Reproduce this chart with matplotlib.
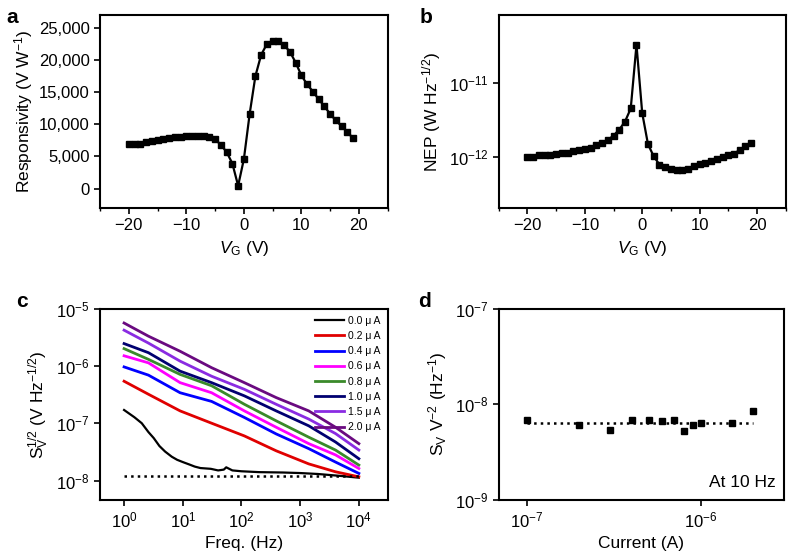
import matplotlib
matplotlib.use("Agg")
import matplotlib.pyplot as plt
from matplotlib.ticker import MultipleLocator, FuncFormatter, LogLocator, NullLocator

plt.rcParams['font.family'] = ['Liberation Sans', 'DejaVu Sans']
plt.rcParams['mathtext.fontset'] = 'custom'
plt.rcParams['mathtext.rm'] = 'Liberation Sans'
plt.rcParams['mathtext.it'] = 'Liberation Sans:italic'
plt.rcParams['mathtext.bf'] = 'Liberation Sans:bold'
plt.rcParams['font.size'] = 10

# panel a / b : gate voltage sweep
vg = [-20, -19, -18, -17, -16, -15, -14, -13, -12, -11, -10, -9, -8, -7, -6, -5, -4, -3, -2, -1,
      0, 1, 2, 3, 4, 5, 6, 7, 8, 9, 10, 11, 12, 13, 14, 15, 16, 17, 18, 19]
responsivity = [7000, 7000, 7000, 7250, 7400, 7600, 7700, 7800, 8000, 8100, 8150, 8200, 8200, 8200,
                8100, 7700, 6800, 5700, 3900, 450,
                4600, 11600, 17500, 20800, 22500, 22900, 22900, 22300, 21300, 19600, 17600, 16200,
                15100, 13900, 12800, 11600, 10600, 9700, 8800, 7800]
nep = [1.0e-12, 1.0e-12, 1.07e-12, 1.07e-12, 1.07e-12, 1.1e-12, 1.15e-12, 1.15e-12, 1.2e-12, 1.25e-12,
       1.3e-12, 1.35e-12, 1.45e-12, 1.55e-12, 1.7e-12, 1.95e-12, 2.35e-12, 3.0e-12, 4.5e-12, 3.2e-11,
       3.9e-12, 1.5e-12, 1.03e-12, 0.8e-12, 0.73e-12, 0.7e-12, 0.68e-12, 0.68e-12, 0.7e-12, 0.77e-12,
       0.82e-12, 0.85e-12, 0.88e-12, 0.95e-12, 1.0e-12, 1.07e-12, 1.12e-12, 1.25e-12, 1.4e-12, 1.53e-12]

# panel c : noise spectra
freq = [1, 2.6, 9, 31, 112, 390, 1400, 4000, 10000]
freq_dark = [1, 1.5, 2, 2.6, 3.2, 4, 5, 6.5, 8, 10, 13, 16, 20, 30, 40, 50, 55, 70, 100, 200,
             500, 1000, 2000, 5000, 10000]
sv_dark = [1.7e-7, 1.27e-7, 1.0e-7, 7e-8, 5.5e-8, 4e-8, 3.2e-8, 2.6e-8, 2.3e-8, 2.1e-8, 1.9e-8,
           1.75e-8, 1.65e-8, 1.6e-8, 1.5e-8, 1.55e-8, 1.7e-8, 1.5e-8, 1.45e-8, 1.4e-8, 1.38e-8,
           1.35e-8, 1.3e-8, 1.2e-8, 1.12e-8]
sv = {
    "0.2": [5.4e-7, 3.2e-7, 1.64e-7, 1.0e-7, 6.0e-8, 3.3e-8, 1.95e-8, 1.42e-8, 1.16e-8],
    "0.4": [9.6e-7, 6.9e-7, 3.4e-7, 2.4e-7, 1.26e-7, 6.5e-8, 3.6e-8, 2.1e-8, 1.33e-8],
    "0.6": [1.5e-6, 1.13e-6, 5.1e-7, 3.4e-7, 1.64e-7, 8.5e-8, 4.4e-8, 2.8e-8, 1.62e-8],
    "0.8": [2.0e-6, 1.3e-6, 7.1e-7, 4.5e-7, 2.14e-7, 1.1e-7, 5.7e-8, 3.4e-8, 1.86e-8],
    "1.0": [2.45e-6, 1.7e-6, 8.1e-7, 5.1e-7, 3.0e-7, 1.64e-7, 9.0e-8, 4.7e-8, 2.4e-8],
    "1.5": [4.2e-6, 2.5e-6, 1.21e-6, 6.6e-7, 3.9e-7, 2.14e-7, 1.18e-7, 6.6e-8, 3.4e-8],
    "2.0": [5.6e-6, 3.3e-6, 1.8e-6, 9.3e-7, 5.1e-7, 2.8e-7, 1.64e-7, 8.5e-8, 4.4e-8],
}
colors = {"0.0": "black", "0.2": "#e00000", "0.4": "#0000ff", "0.6": "#ff00ff", "0.8": "#3a8a2a",
          "1.0": "#000070", "1.5": "#8a2be2", "2.0": "#6a0a80"}
floor_c = 1.2e-8

# panel d : normalized noise at 10 Hz
current = [1e-7, 2e-7, 3e-7, 4e-7, 5e-7, 6e-7, 7e-7, 8e-7, 9e-7, 1e-6, 1.5e-6, 2e-6]
norm_noise = [6.8e-9, 6.0e-9, 5.4e-9, 6.8e-9, 6.9e-9, 6.6e-9, 6.8e-9, 5.25e-9, 6.1e-9, 6.3e-9, 6.4e-9, 8.5e-9]
mean_noise = 6.4e-9

fig = plt.figure(figsize=(7.88, 5.56), dpi=100)
axa = fig.add_axes([0.127, 0.626, 0.365, 0.347])
axb = fig.add_axes([0.633, 0.626, 0.364, 0.347])
axc = fig.add_axes([0.127, 0.101, 0.365, 0.344])
axd = fig.add_axes([0.633, 0.101, 0.362, 0.344])

for ax in (axa, axb, axc, axd):
    for s in ax.spines.values():
        s.set_linewidth(1.5)
    ax.tick_params(direction='out', width=1.2, length=4, labelsize=12, top=False, right=False)
    ax.tick_params(which='minor', direction='out', width=1.0, length=2.5)

# a
axa.plot(vg, responsivity, '-s', color='black', lw=1.6, ms=4.5)
axa.set_xlim(-25, 25)
axa.set_ylim(-3000, 27000)
axa.set_yticks([0, 5000, 10000, 15000, 20000, 25000])
axa.yaxis.set_major_formatter(FuncFormatter(lambda v, p: f"{int(v):,}"))
axa.xaxis.set_major_locator(MultipleLocator(10))
axa.xaxis.set_minor_locator(MultipleLocator(5))
axa.set_xlabel(r"$V_\mathrm{G}$ (V)", fontsize=12.5)
axa.set_ylabel(r"Responsivity (V W$^{-1}$)", fontsize=12.5, labelpad=3)

# b
axb.semilogy(vg, nep, '-s', color='black', lw=1.6, ms=4.5)
axb.set_xlim(-25, 25)
axb.set_ylim(2.1e-13, 8e-11)
axb.set_yticks([1e-12, 1e-11])
axb.yaxis.set_minor_locator(NullLocator())
axb.xaxis.set_major_locator(MultipleLocator(10))
axb.xaxis.set_minor_locator(MultipleLocator(5))
axb.set_xlabel(r"$V_\mathrm{G}$ (V)", fontsize=12.5)
axb.set_ylabel(r"NEP (W Hz$^{-1/2}$)", fontsize=12.5)

# c
axc.loglog(freq_dark, sv_dark, color=colors["0.0"], lw=1.6, label="0.0 \u03bc A")
for key, vals in sv.items():
    axc.loglog(freq, vals, color=colors[key], lw=2.0, label=f"{key} \u03bc A")
axc.plot([1, 10000], [floor_c, floor_c], ':', color='black', lw=1.8)
axc.set_xlim(0.39, 3.1e4)
axc.set_ylim(4.6e-9, 1e-5)
axc.set_xticks([1, 10, 100, 1000, 10000])
axc.xaxis.set_minor_locator(NullLocator())
axc.set_yticks([1e-8, 1e-7, 1e-6, 1e-5])
axc.yaxis.set_minor_locator(NullLocator())
axc.set_xlabel("Freq. (Hz)", fontsize=12.5)
axc.set_ylabel(r"S$_\mathrm{V}^{1/2}$ (V Hz$^{-1/2}$)", fontsize=12.5)
axc.legend(loc='upper right', frameon=False, fontsize=7.5, handlelength=2.8, labelspacing=0.5,
           handletextpad=0.4, borderaxespad=0.3)

# d
axd.loglog(current, norm_noise, 's', color='black', ms=5)
axd.plot([1e-7, 2e-6], [mean_noise, mean_noise], ':', color='black', lw=1.8)
axd.set_xlim(6.9e-8, 3e-6)
axd.set_ylim(1e-9, 1e-7)
axd.set_xticks([1e-7, 1e-6])
axd.xaxis.set_minor_locator(NullLocator())
axd.set_yticks([1e-9, 1e-8, 1e-7])
axd.yaxis.set_minor_locator(NullLocator())
axd.set_xlabel("Current (A)", fontsize=12.5)
axd.set_ylabel(r"S$_\mathrm{V}$ V$^{-2}$ (Hz$^{-1}$)", fontsize=12.5)
axd.text(0.97, 0.05, "At 10 Hz", transform=axd.transAxes, ha='right', va='bottom', fontsize=12.5)

for lbl, x, y in (("a", 0.008, 0.985), ("b", 0.533, 0.985), ("c", 0.02, 0.475), ("d", 0.530, 0.475)):
    fig.text(x, y, lbl, fontsize=15, fontweight='bold', va='top')

fig.savefig("out.png", dpi=100)
